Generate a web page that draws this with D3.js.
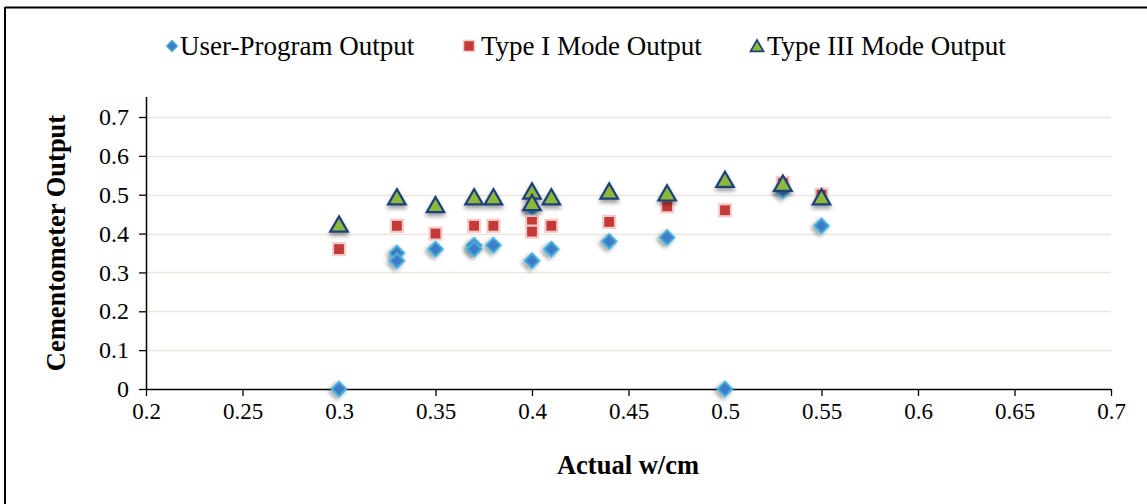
<!DOCTYPE html>
<html>
<head>
<meta charset="utf-8">
<script src="https://cdn.jsdelivr.net/npm/d3@7/dist/d3.min.js"></script>
<style>
  html, body { margin: 0; padding: 0; background: #fff; }
  svg { display: block; }
  text { font-family: "Liberation Serif", "Times New Roman", serif; fill: #000; }
</style>
</head>
<body>
<svg id="chart" width="1147" height="504"></svg>
<script>
// ---- Data ----
const seriesNames = ["User-Program Output", "Type I Mode Output", "Type III Mode Output"];

const userX = [0.30, 0.33, 0.33, 0.35, 0.37, 0.37, 0.38, 0.40, 0.40, 0.41, 0.44, 0.47, 0.50, 0.53, 0.55];
const userY = [0.00, 0.35, 0.33, 0.36, 0.37, 0.36, 0.37, 0.33, 0.465, 0.36, 0.38, 0.39, 0.00, 0.51, 0.42];

const type1X = [0.30, 0.33, 0.35, 0.37, 0.38, 0.40, 0.40, 0.41, 0.44, 0.47, 0.50, 0.53, 0.55];
const type1Y = [0.36, 0.42, 0.40, 0.42, 0.42, 0.43, 0.405, 0.42, 0.43, 0.47, 0.46, 0.53, 0.50];

const type3X = [0.30, 0.33, 0.35, 0.37, 0.38, 0.40, 0.40, 0.41, 0.44, 0.47, 0.50, 0.53, 0.55];
const type3Y = [0.42, 0.49, 0.47, 0.49, 0.49, 0.505, 0.475, 0.49, 0.505, 0.50, 0.535, 0.525, 0.49];

const xTicks = [0.2, 0.25, 0.3, 0.35, 0.4, 0.45, 0.5, 0.55, 0.6, 0.65, 0.7];
const yTicks = [0, 0.1, 0.2, 0.3, 0.4, 0.5, 0.6, 0.7];

// ---- Layout ----
const svg = d3.select("#chart");
const W = 1147, H = 504;
const plot = { left: 146, right: 1111, top: 97, bottom: 389 };

const x = d3.scaleLinear().domain([0.2, 0.7]).range([plot.left, plot.right]);
const y = d3.scaleLinear().domain([0, 0.7]).range([plot.bottom, 117]);

// defs: shadow
const defs = svg.append("defs");
const f = defs.append("filter").attr("id", "shadow").attr("x", "-50%").attr("y", "-50%").attr("width", "200%").attr("height", "220%");
f.append("feDropShadow").attr("dx", 0).attr("dy", 3).attr("stdDeviation", 2).attr("flood-color", "#000").attr("flood-opacity", 0.4);

// outer frame (top and left)
svg.append("line").attr("x1", 5).attr("x2", W).attr("y1", 7.5).attr("y2", 7.5).attr("stroke", "#000").attr("stroke-width", 2);
svg.append("line").attr("x1", 5).attr("x2", 5).attr("y1", 7).attr("y2", H).attr("stroke", "#000").attr("stroke-width", 2);

// gridlines
svg.append("g").selectAll("line").data(yTicks.filter(d => d > 0)).join("line")
  .attr("x1", plot.left).attr("x2", plot.right)
  .attr("y1", d => Math.round(y(d)) + 0.5).attr("y2", d => Math.round(y(d)) + 0.5)
  .attr("stroke", "#ece7dc").attr("stroke-width", 1.5);

// axes
const xAxis = d3.axisBottom(x).tickValues(xTicks).tickSize(7).tickPadding(7).tickFormat(d => String(+d.toFixed(2)));
const gx = svg.append("g").attr("transform", `translate(0,${plot.bottom})`).call(xAxis);
gx.attr("font-family", null);
gx.select(".domain").attr("stroke", "#000").attr("stroke-width", 1.5).attr("d", `M${plot.left},0.5H${plot.right}`);
gx.selectAll(".tick line").attr("stroke", "#000").attr("stroke-width", 1.3);
gx.selectAll(".tick text").attr("font-size", 23).attr("font-family", "Liberation Serif");

const yAxis = d3.axisLeft(y).tickValues(yTicks).tickSize(7).tickPadding(10).tickFormat(d => String(+d.toFixed(1)));
const gy = svg.append("g").attr("transform", `translate(${plot.left},0)`).call(yAxis);
gy.attr("font-family", null);
gy.select(".domain").attr("stroke", "#000").attr("stroke-width", 1.5).attr("d", `M0.5,${plot.top}V${plot.bottom}`);
gy.selectAll(".tick line").attr("stroke", "#000").attr("stroke-width", 1.3);
gy.selectAll(".tick text").attr("font-size", 24).attr("font-family", "Liberation Serif");

// axis titles
svg.append("text").attr("x", 628).attr("y", 474).attr("text-anchor", "middle")
  .attr("font-size", 26.5).attr("font-weight", "bold").text("Actual w/cm");
svg.append("text").attr("transform", `translate(65,${243}) rotate(-90)`).attr("text-anchor", "middle")
  .attr("font-size", 26.5).attr("font-weight", "bold").text("Cementometer Output");

// marker generators
const diamond = d3.symbol().type(d3.symbolSquare).size(110);
function trianglePath(s) {
  const h = s * 0.87;
  return `M0,${-h * 0.62}L${s / 2},${h * 0.38}L${-s / 2},${h * 0.38}Z`;
}

const gMarks = svg.append("g");

// series 1 - diamonds
gMarks.append("g").selectAll("path").data(userX.map((v, i) => [v, userY[i]])).join("path")
  .attr("d", diamond())
  .attr("transform", d => `translate(${x(d[0])},${y(d[1])}) rotate(45)`)
  .attr("fill", "#3c7cc9").attr("stroke", "#4bb3d9").attr("stroke-width", 2)
  .attr("filter", "url(#shadow)");

// series 2 - squares
gMarks.append("g").selectAll("rect").data(type1X.map((v, i) => [v, type1Y[i]])).join("rect")
  .attr("x", d => x(d[0]) - 6).attr("y", d => y(d[1]) - 6)
  .attr("width", 12).attr("height", 12)
  .attr("fill", "#c33a37").attr("stroke", "#f3cccb").attr("stroke-width", 2.2);

// series 3 - triangles
gMarks.append("g").selectAll("path").data(type3X.map((v, i) => [v, type3Y[i]])).join("path")
  .attr("d", trianglePath(17.5))
  .attr("transform", d => `translate(${x(d[0])},${y(d[1])})`)
  .attr("fill", "#8db93b").attr("stroke", "#1f3f7c").attr("stroke-width", 2.2).attr("stroke-linejoin", "miter")
  .attr("filter", "url(#shadow)");

// legend
const legendY = 46;
const lg = svg.append("g");
const legendItems = [
  { name: seriesNames[0], mx: 172, tx: 180 },
  { name: seriesNames[1], mx: 469, tx: 481 },
  { name: seriesNames[2], mx: 757, tx: 767 }
];
lg.append("path").attr("d", d3.symbol().type(d3.symbolSquare).size(60)())
  .attr("transform", `translate(${legendItems[0].mx},${legendY}) rotate(45)`)
  .attr("fill", "#3c7cc9").attr("stroke", "#4bb3d9").attr("stroke-width", 1.3);
lg.append("rect").attr("x", legendItems[1].mx - 5.5).attr("y", legendY - 5.5).attr("width", 11).attr("height", 11)
  .attr("fill", "#c33a37").attr("stroke", "#f3cccb").attr("stroke-width", 1.6);
lg.append("path").attr("d", trianglePath(13))
  .attr("transform", `translate(${legendItems[2].mx},${legendY + 1})`)
  .attr("fill", "#8db93b").attr("stroke", "#1f3f7c").attr("stroke-width", 1.7);
lg.selectAll("text").data(legendItems).join("text")
  .attr("x", d => d.tx).attr("y", legendY).attr("dy", "0.35em")
  .attr("font-size", 27).text(d => d.name);
</script>
</body>
</html>
